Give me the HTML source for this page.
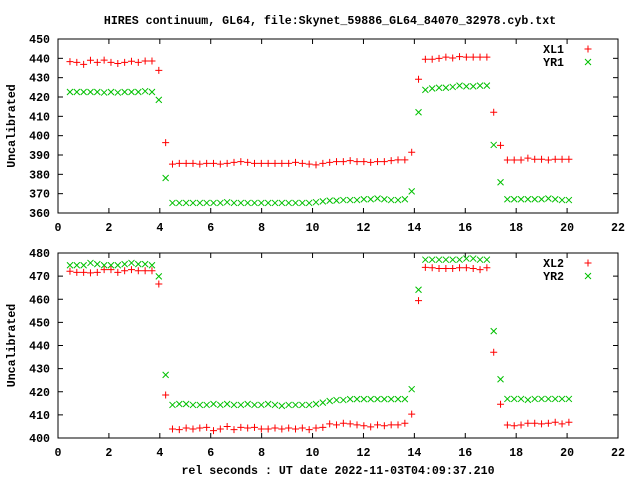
<!DOCTYPE html>
<html><head><meta charset="utf-8"><style>
body{margin:0;background:#fff}
svg{display:block}
text{font-family:"Liberation Mono",monospace;font-weight:bold;font-size:11.6px;fill:#000}
</style></head><body>
<svg id="chart" width="640" height="480" xmlns="http://www.w3.org/2000/svg">
<rect width="640" height="480" fill="#fff"/>
<text x="330" y="24" text-anchor="middle">HIRES continuum, GL64, file:Skynet_59886_GL64_84070_32978.cyb.txt</text>
<text x="338" y="474" text-anchor="middle">rel seconds : UT date 2022-11-03T04:09:37.210</text>
</svg>
<script>
const times = [];
const N = 74;
const xTicks = [0,2,4,6,8,10,12,14,16,18,20,22];
const topTicks = [360,370,380,390,400,410,420,430,440,450];
const botTicks = [400,410,420,430,440,450,460,470,480];
const xl1 = [438.3,437.9,436.9,439.0,437.9,439.1,437.9,437.3,437.9,438.5,437.9,438.6,438.6,433.8,396.4,
385.3,385.7,385.7,385.7,385.3,385.7,385.7,385.3,385.7,386.2,386.6,386.2,385.7,385.7,385.7,385.7,385.7,385.7,386.2,385.7,385.3,384.9,385.7,386.2,386.6,386.6,387.1,386.6,386.6,386.2,386.6,386.6,387.1,387.5,387.5,391.4,429.2,
439.5,439.5,440.0,440.6,440.2,440.9,440.6,440.6,440.6,440.6,412.1,395.0,
387.4,387.4,387.4,388.4,387.8,387.8,387.4,387.8,387.8,387.8];
const yr1 = [422.6,422.6,422.6,422.6,422.6,422.3,422.6,422.3,422.6,422.6,422.6,423.0,422.6,418.5,378.1,
365.2,365.2,365.2,365.2,365.2,365.2,365.2,365.2,365.6,365.2,365.2,365.2,365.2,365.2,365.2,365.2,365.2,365.2,365.2,365.2,365.2,365.6,366.0,366.4,366.4,366.7,366.7,366.7,367.1,367.1,367.5,367.1,366.7,366.7,367.1,371.2,412.1,
423.7,424.4,424.8,424.8,425.2,425.9,425.5,425.5,425.9,425.9,395.2,375.9,
367.1,367.1,367.1,367.1,367.1,367.1,367.5,367.1,366.7,366.7];
const xl2 = [472.1,471.6,471.6,471.4,471.6,472.8,472.8,471.6,472.3,472.8,472.3,472.3,472.3,466.6,418.6,
403.9,403.6,404.3,403.9,404.3,404.6,403.2,403.9,405.0,403.6,404.6,404.3,404.6,403.9,403.9,404.3,403.9,404.3,403.9,404.3,403.6,404.3,404.6,406.1,405.7,406.4,406.1,405.7,405.3,404.8,405.7,405.3,405.7,405.7,406.4,410.3,459.4,
473.8,473.6,473.3,473.3,473.3,473.6,473.6,473.3,472.8,473.6,437.1,414.6,
405.6,405.3,405.6,406.4,406.4,406.1,406.4,406.8,406.1,406.8];
const yr2 = [474.7,474.7,474.7,475.7,475.2,474.7,474.7,474.7,475.2,475.7,475.2,475.2,474.7,469.9,427.3,
414.3,414.7,414.7,414.3,414.3,414.3,414.7,414.3,414.7,414.3,414.3,414.7,414.3,414.3,414.7,414.3,413.9,414.3,414.3,414.3,414.3,414.7,415.3,416.0,416.4,416.4,416.8,416.8,416.8,416.8,416.8,416.8,416.8,416.8,416.8,421.1,464.1,
477.1,477.1,477.1,477.1,477.1,477.1,477.6,477.6,477.1,477.1,446.2,425.4,
416.9,416.9,416.9,416.5,416.9,416.9,416.9,416.9,416.9,416.9];
for(let i=0;i<N;i++) times.push(0.47+0.2685*i);

const svg=document.getElementById('chart');
const NS='http://www.w3.org/2000/svg';
const L=58,R=618;
function xs(t){return L+(t-0)/(22-0)*(R-L);}
function mk(tag,attrs,parent){const e=document.createElementNS(NS,tag);for(const k in attrs)e.setAttribute(k,attrs[k]);(parent||svg).appendChild(e);return e;}

function panel(name,top,bottom,ymin,ymax,yticks,s1,s2,n1,n2,showX){
  const g=mk('g',{});
  
  
  const ys=v=>bottom-(v-ymin)/(ymax-ymin)*(bottom-top);
  const frame=mk('rect',{x:L,y:top,width:R-L,height:bottom-top,fill:'none',stroke:'#000','stroke-width':1},g);
  
  
  yticks.forEach(v=>{
    const y=ys(v);
    mk('line',{x1:L,x2:L+5,y1:y,y2:y,stroke:'#000'},g);
    mk('line',{x1:R-5,x2:R,y1:y,y2:y,stroke:'#000'},g);
    const t=mk('text',{x:L-8,y:y+4,'text-anchor':'end'},g);
    
    
    t.textContent=v;
  });
  xTicks.forEach(v=>{
    const x=xs(v);
    mk('line',{x1:x,x2:x,y1:bottom,y2:bottom-5,stroke:'#000'},g);
    mk('line',{x1:x,x2:x,y1:top,y2:top+5,stroke:'#000'},g);
    const t=mk('text',{x:x,y:bottom+18,'text-anchor':'middle'},g);
    
    
    t.textContent=v;
  });
  const yl=mk('text',{x:0,y:0,'text-anchor':'middle',transform:`translate(15,${(top+bottom)/2}) rotate(-90)`},g);
  
  
  yl.textContent='Uncalibrated';
  function plus(x,y,parent){return mk('path',{d:`M${x-3.5},${y}h7M${x},${y-3.5}v7`,stroke:'#ff0000','stroke-width':1,fill:'none'},parent);}
  function cross(x,y,parent){return mk('path',{d:`M${x-3},${y-3}l6,6M${x-3},${y+3}l6,-6`,stroke:'#00c000','stroke-width':1,fill:'none'},parent);}
  const g1=mk('g',{},g);
  
  
  s1.forEach((v,i)=>{const p=plus(xs(times[i]),ys(v),g1);
    
    });
  const g2=mk('g',{},g);
  
  
  s2.forEach((v,i)=>{const p=cross(xs(times[i]),ys(v),g2);
    
    });
  // legend
  const lg=mk('g',{},g);
  
  
  const t1=mk('text',{x:564,y:top+14,'text-anchor':'end'},lg);
  
  
  t1.textContent=n1;
  plus(588,top+10,lg);
  const t2=mk('text',{x:564,y:top+27,'text-anchor':'end'},lg);
  
  
  t2.textContent=n2;
  cross(588,top+23,lg);
}
panel('top-panel',39,213,360,450,topTicks,xl1,yr1,'XL1','YR1');
panel('bottom-panel',253,438,400,480,botTicks,xl2,yr2,'XL2','YR2');
</script>
</body></html>
